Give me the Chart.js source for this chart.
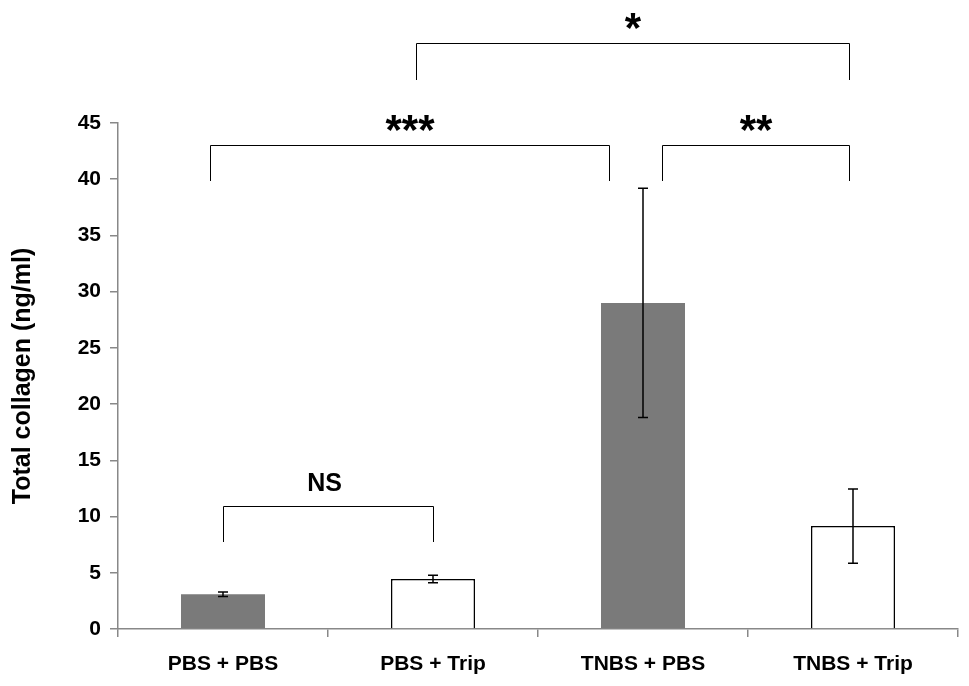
<!DOCTYPE html>
<html>
<head>
<meta charset="utf-8">
<script src="https://cdn.jsdelivr.net/npm/chart.js@4.4.1/dist/chart.umd.min.js"></script>
<style>
  body { margin: 0; background: #fff; }
  #wrap { width: 969px; height: 686px; }
</style>
</head>
<body>
<div id="wrap"><canvas id="chart"></canvas></div>
<script>
const groups = ['PBS + PBS', 'PBS + Trip', 'TNBS + PBS', 'TNBS + Trip'];
const collagen = [3.1, 4.45, 29.0, 9.15];
const errors = [0.2, 0.33, 10.2, 3.3];
const barColors = ['#7a7a7a', '#ffffff', '#7a7a7a', '#ffffff'];
const barBorders = ['#7a7a7a', '#000000', '#7a7a7a', '#000000'];
const barBorderWidths = [0, 1.5, 0, 1.5];

// significance brackets: from / to category index, top and foot value
const sigFrom = [-0.06, 2.09, 0.92, 0];
const sigTo = [1.84, 2.98, 2.98, 1];
const sigTop = [43.06, 43.06, 52.1, 10.94];
const sigFoot = [39.86, 39.86, 48.8, 7.74];
const sigText = ['***', '**', '*', 'NS'];

const font = '"Liberation Sans", Arial, sans-serif';

// error bars
const errorBars = {
  id: 'errorBars',
  afterDatasetsDraw(chart) {
    const ctx = chart.ctx;
    const y = chart.scales.y;
    const meta = chart.getDatasetMeta(0);
    ctx.save();
    ctx.strokeStyle = '#000';
    ctx.lineWidth = 1.5;
    meta.data.forEach((bar, i) => {
      const top = y.getPixelForValue(collagen[i] + errors[i]);
      const bot = y.getPixelForValue(collagen[i] - errors[i]);
      ctx.beginPath();
      ctx.moveTo(bar.x, top); ctx.lineTo(bar.x, bot);
      ctx.moveTo(bar.x - 5, top); ctx.lineTo(bar.x + 5, top);
      ctx.moveTo(bar.x - 5, bot); ctx.lineTo(bar.x + 5, bot);
      ctx.stroke();
    });
    ctx.restore();
  }
};

// brackets with stars
const brackets = {
  id: 'brackets',
  afterDraw(chart) {
    const ctx = chart.ctx;
    const x = chart.scales.x, y = chart.scales.y;
    ctx.save();
    ctx.strokeStyle = '#000';
    ctx.lineWidth = 1;
    ctx.fillStyle = '#000';
    ctx.textAlign = 'center';
    ctx.textBaseline = 'alphabetic';
    sigText.forEach((t, i) => {
      const x1 = Math.round(x.getPixelForValue(sigFrom[i])) + 0.5;
      const x2 = Math.round(x.getPixelForValue(sigTo[i])) + 0.5;
      const yt = Math.round(y.getPixelForValue(sigTop[i])) + 0.5;
      const yf = Math.round(y.getPixelForValue(sigFoot[i]));
      ctx.beginPath();
      ctx.moveTo(x1, yf); ctx.lineTo(x1, yt); ctx.lineTo(x2, yt); ctx.lineTo(x2, yf);
      ctx.stroke();
      const cx = (x1 + x2) / 2;
      if (t === 'NS') {
        ctx.font = 'bold 25px ' + font;
        ctx.fillText(t, cx - 4, yt - 16);
      } else {
        ctx.font = 'bold 42px ' + font;
        ctx.fillText(t, cx, yt - 2);
      }
    });
    ctx.restore();
  }
};

new Chart(document.getElementById('chart'), {
  type: 'bar',
  data: {
    labels: groups,
    datasets: [{
      data: collagen,
      backgroundColor: barColors,
      borderColor: barBorders,
      borderWidth: barBorderWidths,
      borderSkipped: 'bottom',
      barPercentage: 0.4,
      categoryPercentage: 1.0
    }]
  },
  options: {
    responsive: true,
    maintainAspectRatio: false,
    animation: false,
    layout: { padding: { top: 123, right: 11, left: 0, bottom: 0 } },
    plugins: { legend: { display: false }, tooltip: { enabled: false } },
    scales: {
      x: {
        offset: true,
        grid: { offset: true, drawOnChartArea: false, tickLength: 8, color: '#888', lineWidth: 1.5 },
        border: { color: '#888', width: 1.5 },
        ticks: { color: '#000', font: { family: font, size: 21, weight: 'bold' }, padding: 15 },
        afterFit(s) { s.height = 57; }
      },
      y: {
        min: 0, max: 45,
        ticks: { stepSize: 5, color: '#000', font: { family: font, size: 21, weight: 'bold' }, padding: 9 },
        grid: { drawOnChartArea: false, tickLength: 8, color: '#888', lineWidth: 1.5 },
        border: { color: '#888', width: 1.5 },
        title: { display: true, text: 'Total collagen (ng/ml)', color: '#000', font: { family: font, size: 25, weight: 'bold' }, padding: { top: 8, bottom: 0 } },
        afterFit(s) { s.width = 118; }
      }
    }
  },
  plugins: [errorBars, brackets]
});
</script>
</body>
</html>
